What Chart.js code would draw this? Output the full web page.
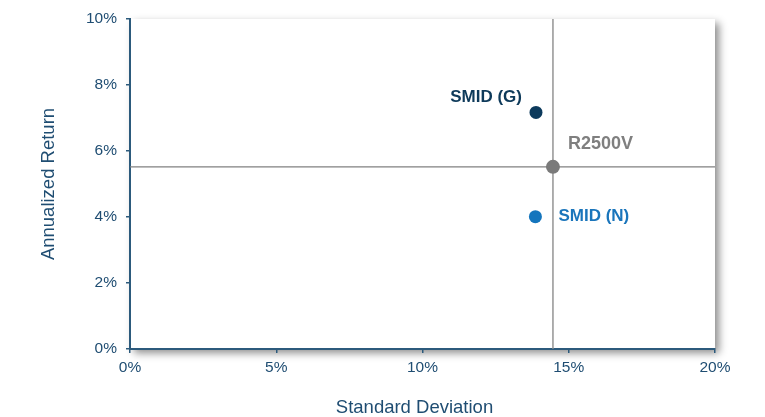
<!DOCTYPE html>
<html>
<head>
<meta charset="utf-8">
<script src="https://cdn.jsdelivr.net/npm/chart.js@4/dist/chart.umd.min.js"></script>
<style>
html,body{margin:0;padding:0;background:#fff;}
#wrap{width:765px;height:417px;position:relative;}
</style>
</head>
<body>
<div id="wrap"><canvas id="c" width="765" height="417"></canvas></div>
<script>
// ---- data ----
const seriesNames = ['SMID (G)', 'R2500V', 'SMID (N)'];
const stdDev = [13.88, 14.46, 13.86];      // Standard Deviation (%)
const annReturn = [7.17, 5.52, 4.01];      // Annualized Return (%)
const benchmarkIndex = 1;                  // R2500V defines the crosshair
const xRange = [0, 20];
const yRange = [0, 10];
const xStep = 5;
const yStep = 2;
const xTitle = 'Standard Deviation';
const yTitle = 'Annualized Return';

// ---- styles ----
const FONT = '"Liberation Sans", Arial, sans-serif';
const pointColors = ['#0c3a5c', '#7a7a7a', '#1475bd'];
const labelColors = ['#0e3a5a', '#7f7f7f', '#1a75bb'];
const labelPlacement = [
  {dx: -14, dy: -15, align: 'right', size: 17},
  {dx: 15, dy: -23, align: 'left', size: 18},
  {dx: 23, dy: 0, align: 'left', size: 17}
];
const axisText = '#1f4d72';
const axisLine = '#2c5a7c';

const bx = stdDev[benchmarkIndex], by = annReturn[benchmarkIndex];

const shadowPlugin = {
  id: 'plotShadow',
  beforeDraw(chart) {
    const {ctx, chartArea: a} = chart;
    ctx.save();
    ctx.shadowColor = 'rgba(0,0,0,0.45)';
    ctx.shadowBlur = 8;
    ctx.shadowOffsetX = 4;
    ctx.shadowOffsetY = 4;
    ctx.fillStyle = '#fff';
    ctx.fillRect(a.left, a.top, a.right - a.left, a.bottom - a.top);
    ctx.restore();
  }
};

const labelPlugin = {
  id: 'pointLabels',
  afterDatasetsDraw(chart) {
    const {ctx, scales: {x, y}, chartArea: a} = chart;
    ctx.save();
    ctx.textBaseline = 'middle';
    seriesNames.forEach((name, i) => {
      const p = labelPlacement[i];
      ctx.font = 'bold ' + p.size + 'px ' + FONT;
      ctx.fillStyle = labelColors[i];
      ctx.textAlign = p.align;
      ctx.fillText(name, x.getPixelForValue(stdDev[i]) + p.dx, y.getPixelForValue(annReturn[i]) + p.dy);
    });
    // x-axis title (slightly left of the plot centre, as in the source)
    ctx.font = '18.5px ' + FONT;
    ctx.fillStyle = axisText;
    ctx.textAlign = 'center';
    ctx.fillText(xTitle, (a.left + a.right) / 2 - 8, 408);
    ctx.restore();
  }
};

const datasets = [
  {
    type: 'line',
    data: [{x: xRange[0], y: by}, {x: xRange[1], y: by}],
    borderColor: '#808080', borderWidth: 1.4, pointRadius: 0, showLine: true, order: 5
  },
  {
    type: 'line',
    data: [{x: bx, y: yRange[0]}, {x: bx, y: yRange[1]}],
    borderColor: '#8c8c8c', borderWidth: 1.4, pointRadius: 0, showLine: true, order: 5
  }
];
seriesNames.forEach((name, i) => {
  datasets.push({
    type: 'scatter',
    label: name,
    data: [{x: stdDev[i], y: annReturn[i]}],
    backgroundColor: pointColors[i],
    borderColor: pointColors[i],
    pointRadius: i === benchmarkIndex ? 7 : 6.5,
    pointBorderWidth: 0,
    order: 1
  });
});

new Chart(document.getElementById('c'), {
  type: 'scatter',
  data: {datasets},
  options: {
    responsive: false,
    animation: false,
    events: [],
    layout: {padding: {left: 0, right: 50, top: 19, bottom: 0}},
    plugins: {legend: {display: false}, tooltip: {enabled: false}},
    scales: {
      x: {
        type: 'linear', min: xRange[0], max: xRange[1],
        ticks: {stepSize: xStep, color: axisText, padding: 5,
          font: {family: FONT, size: 15.5},
          callback: v => v + '%'},
        grid: {display: true, drawOnChartArea: false, drawTicks: true, tickLength: 4, color: axisLine, lineWidth: 1.5},
        border: {display: true, color: axisLine, width: 2},
        title: {display: false, text: xTitle},
        afterFit(s) { s.height = 417 - 349; }
      },
      y: {
        type: 'linear', min: yRange[0], max: yRange[1],
        ticks: {stepSize: yStep, color: axisText, padding: 9,
          font: {family: FONT, size: 15.5},
          callback: v => v + '%'},
        grid: {display: true, drawOnChartArea: false, drawTicks: true, tickLength: 4, color: axisLine, lineWidth: 1.5},
        border: {display: true, color: axisLine, width: 2},
        title: {display: true, text: yTitle, color: axisText, padding: {top: 39.5, bottom: 0},
          font: {family: FONT, size: 18.5, lineHeight: 1}},
        afterFit(s) { s.width = 130; }
      }
    }
  },
  plugins: [shadowPlugin, labelPlugin]
});
</script>
</body>
</html>
